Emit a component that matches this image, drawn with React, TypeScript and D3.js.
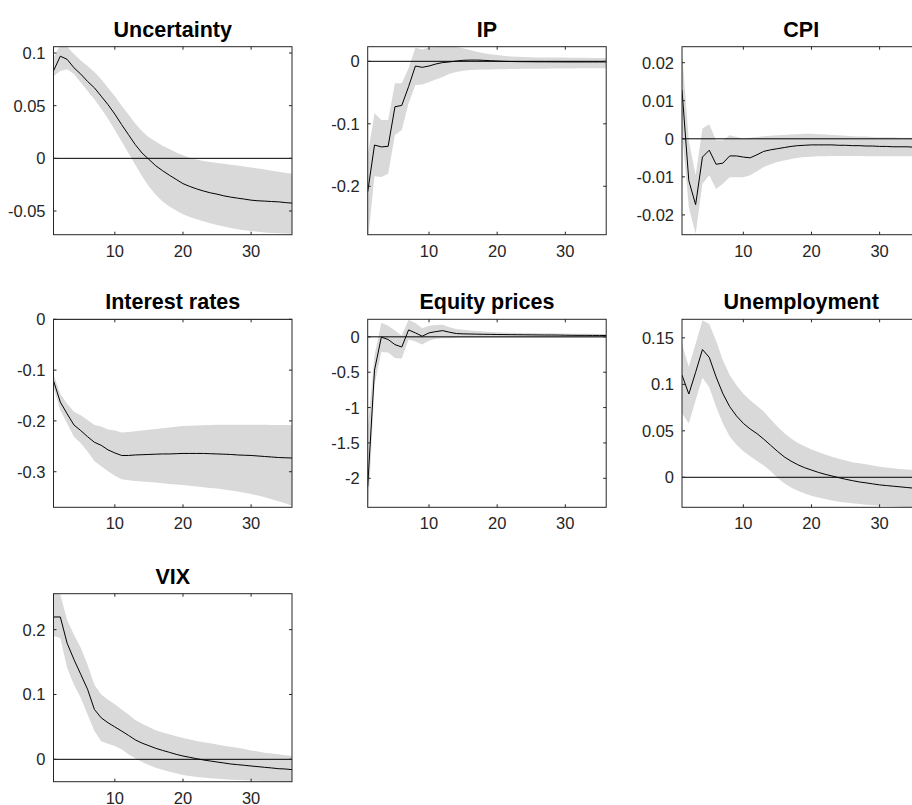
import React from "react";
import * as d3 from "d3";

// ---------- data ----------
const HORIZON = [1, 2, 3, 4, 5, 6, 7, 8, 9, 10, 11, 12, 13, 14, 15, 16, 17, 18, 19, 20, 21, 22, 23, 24, 25, 26, 27, 28, 29, 30, 31, 32, 33, 34, 35, 36];
const X_TICKS = [10, 20, 30];
const TITLES = ["Uncertainty", "IP", "CPI", "Interest rates", "Equity prices", "Unemployment", "VIX"];

const UNC_MID = [0.083, 0.097, 0.094, 0.086, 0.080, 0.073, 0.067, 0.059, 0.051, 0.042, 0.032, 0.0225, 0.013, 0.005, -0.001, -0.007, -0.0117, -0.016, -0.020, -0.024, -0.0267, -0.029, -0.031, -0.0327, -0.034, -0.0356, -0.0368, -0.0378, -0.0387, -0.0397, -0.0403, -0.0406, -0.041, -0.0413, -0.042, -0.0425];
const UNC_UP = [0.095, 0.108, 0.106, 0.099, 0.093, 0.0876, 0.082, 0.075, 0.067, 0.059, 0.050, 0.0416, 0.033, 0.0257, 0.020, 0.016, 0.012, 0.0089, 0.0055, 0.003, 0.0005, -0.0012, -0.0025, -0.0035, -0.0044, -0.0052, -0.006, -0.0068, -0.0077, -0.0088, -0.0097, -0.0107, -0.0117, -0.0127, -0.0137, -0.0146];
const UNC_LO = [0.078, 0.083, 0.0845, 0.080, 0.072, 0.064, 0.056, 0.047, 0.0375, 0.027, 0.016, 0.005, -0.006, -0.017, -0.0267, -0.0346, -0.041, -0.0457, -0.0495, -0.053, -0.0556, -0.0578, -0.0598, -0.0616, -0.0633, -0.0648, -0.0661, -0.0673, -0.0682, -0.069, -0.0698, -0.0705, -0.0708, -0.0711, -0.0714, -0.0717];
const UNC_TICKS = [-0.05, 0, 0.05, 0.1];
const UNC_TICK_LABELS = ["-0.05", "0", "0.05", "0.1"];
const UNC_RANGE = [-0.0725, 0.106];

const IP_MID = [-0.209, -0.134, -0.137, -0.136, -0.0727, -0.0706, -0.0406, -0.0075, -0.0096, -0.0075, -0.0043, -0.002, -0.001, 0.0005, 0.0016, 0.002, 0.002, 0.0016, 0.001, 0.0005, 0.0, -0.0003, -0.0005, -0.0006, -0.0007, -0.0008, -0.0008, -0.0009, -0.0009, -0.001, -0.001, -0.001, -0.001, -0.001, -0.001, -0.001];
const IP_UP = [-0.15, -0.083, -0.094, -0.094, -0.035, -0.035, -0.011, 0.022, 0.019, 0.022, 0.023, 0.023, 0.023, 0.023, 0.021, 0.018, 0.0155, 0.013, 0.0115, 0.010, 0.0088, 0.0077, 0.0072, 0.0068, 0.0065, 0.0063, 0.0062, 0.0061, 0.006, 0.006, 0.0058, 0.0057, 0.0056, 0.0055, 0.0054, 0.0053];
const IP_LO = [-0.29, -0.184, -0.185, -0.18, -0.118, -0.11, -0.067, -0.038, -0.037, -0.033, -0.029, -0.025, -0.02, -0.017, -0.015, -0.014, -0.0135, -0.013, -0.013, -0.0128, -0.0126, -0.0124, -0.0122, -0.012, -0.012, -0.0118, -0.0117, -0.0116, -0.0115, -0.0114, -0.0113, -0.0112, -0.0111, -0.011, -0.011, -0.011];
const IP_TICKS = [-0.2, -0.1, 0];
const IP_TICK_LABELS = ["-0.2", "-0.1", "0"];
const IP_RANGE = [-0.2775, 0.0234];

const CPI_MID = [0.0128, -0.011, -0.0173, -0.0048, -0.003, -0.0067, -0.0064, -0.0045, -0.0045, -0.0048, -0.005, -0.0042, -0.0033, -0.0029, -0.0026, -0.0023, -0.002, -0.0018, -0.0017, -0.0016, -0.0016, -0.0016, -0.0016, -0.0017, -0.0017, -0.0018, -0.0018, -0.0019, -0.0019, -0.002, -0.002, -0.0021, -0.0021, -0.0021, -0.0022, -0.0022];
const CPI_UP = [0.023, -0.0005, -0.0096, 0.0027, 0.0038, -0.0004, -0.0004, 0.0009, 0.0005, 0.0, 0.0003, 0.0005, 0.0007, 0.0008, 0.0009, 0.001, 0.0011, 0.0012, 0.0013, 0.0013, 0.0012, 0.0011, 0.001, 0.0009, 0.0008, 0.0007, 0.0006, 0.0006, 0.0005, 0.0004, 0.0004, 0.0004, 0.0003, 0.0003, 0.0003, 0.0003];
const CPI_LO = [0.002, -0.018, -0.025, -0.0118, -0.0096, -0.0132, -0.0118, -0.0101, -0.0101, -0.0101, -0.0096, -0.0085, -0.0074, -0.0067, -0.0061, -0.0057, -0.0053, -0.005, -0.0048, -0.0047, -0.0046, -0.0046, -0.0045, -0.0045, -0.0045, -0.0045, -0.0045, -0.0046, -0.0046, -0.0046, -0.0046, -0.0046, -0.0046, -0.0046, -0.0046, -0.0046];
const CPI_TICKS = [-0.02, -0.01, 0, 0.01, 0.02];
const CPI_TICK_LABELS = ["-0.02", "-0.01", "0", "0.01", "0.02"];
const CPI_RANGE = [-0.0252, 0.0242];

const IR_MID = [-0.121, -0.163, -0.186, -0.208, -0.219, -0.231, -0.242, -0.248, -0.257, -0.263, -0.268, -0.268, -0.267, -0.2665, -0.266, -0.2655, -0.265, -0.265, -0.2645, -0.264, -0.264, -0.264, -0.264, -0.2645, -0.265, -0.2655, -0.266, -0.267, -0.2675, -0.268, -0.269, -0.27, -0.271, -0.272, -0.2725, -0.273];
const IR_UP = [-0.108, -0.147, -0.166, -0.182, -0.189, -0.198, -0.208, -0.211, -0.217, -0.219, -0.223, -0.222, -0.2205, -0.219, -0.2175, -0.216, -0.2145, -0.213, -0.2115, -0.21, -0.2095, -0.209, -0.2085, -0.208, -0.2075, -0.2075, -0.2075, -0.2075, -0.2075, -0.2075, -0.2075, -0.2075, -0.2078, -0.208, -0.208, -0.208];
const IR_LO = [-0.134, -0.179, -0.205, -0.231, -0.244, -0.26, -0.279, -0.289, -0.299, -0.308, -0.315, -0.317, -0.318, -0.319, -0.32, -0.321, -0.3225, -0.324, -0.325, -0.326, -0.3275, -0.329, -0.3305, -0.332, -0.333, -0.335, -0.337, -0.339, -0.3415, -0.344, -0.347, -0.35, -0.354, -0.358, -0.362, -0.367];
const IR_TICKS = [-0.3, -0.2, -0.1, 0];
const IR_TICK_LABELS = ["-0.3", "-0.2", "-0.1", "0"];
const IR_RANGE = [-0.37, 0];

const EQ_MID = [-2.12, -0.47, -0.005, -0.037, -0.11, -0.144, 0.098, 0.056, 0.009, 0.056, 0.074, 0.088, 0.065, 0.047, 0.042, 0.04, 0.038, 0.036, 0.035, 0.033, 0.032, 0.031, 0.03, 0.029, 0.028, 0.027, 0.026, 0.026, 0.025, 0.023, 0.022, 0.021, 0.021, 0.02, 0.02, 0.019];
const EQ_UP = [-1.3, -0.26, 0.2, 0.158, 0.088, 0.019, 0.24, 0.195, 0.12, 0.158, 0.167, 0.172, 0.135, 0.112, 0.102, 0.09, 0.082, 0.076, 0.07, 0.065, 0.062, 0.059, 0.057, 0.055, 0.053, 0.051, 0.05, 0.049, 0.047, 0.046, 0.045, 0.044, 0.043, 0.042, 0.041, 0.04];
const EQ_LO = [-2.6, -0.68, -0.214, -0.223, -0.3, -0.307, -0.037, -0.065, -0.11, -0.056, -0.028, -0.019, -0.019, -0.016, -0.014, -0.013, -0.012, -0.012, -0.012, -0.012, -0.012, -0.012, -0.012, -0.012, -0.012, -0.012, -0.012, -0.012, -0.012, -0.012, -0.012, -0.012, -0.012, -0.012, -0.012, -0.012];
const EQ_TICKS = [-2, -1.5, -1, -0.5, 0];
const EQ_TICK_LABELS = ["-2", "-1.5", "-1", "-0.5", "0"];
const EQ_RANGE = [-2.41, 0.248];

const UN_MID = [0.110, 0.0896, 0.113, 0.1375, 0.129, 0.108, 0.090, 0.076, 0.066, 0.058, 0.052, 0.047, 0.041, 0.0345, 0.028, 0.022, 0.0174, 0.0135, 0.0103, 0.0078, 0.0053, 0.0032, 0.0014, -0.0004, -0.0021, -0.0036, -0.005, -0.006, -0.0071, -0.0082, -0.0089, -0.0096, -0.0103, -0.011, -0.0117, -0.0124];
const UN_UP = [0.1436, 0.119, 0.1436, 0.169, 0.165, 0.147, 0.126, 0.11, 0.099, 0.090, 0.083, 0.077, 0.0707, 0.0625, 0.0547, 0.0476, 0.0416, 0.037, 0.0334, 0.0299, 0.0272, 0.0245, 0.0222, 0.0199, 0.018, 0.0163, 0.015, 0.0139, 0.0126, 0.0114, 0.0105, 0.0096, 0.009, 0.0085, 0.008, 0.0075];
const UN_LO = [0.069, 0.058, 0.083, 0.107, 0.097, 0.076, 0.058, 0.044, 0.035, 0.028, 0.0227, 0.0174, 0.0128, 0.0068, -0.0004, -0.0064, -0.011, -0.0146, -0.0174, -0.0199, -0.0218, -0.0235, -0.025, -0.0263, -0.0272, -0.028, -0.0288, -0.0295, -0.0301, -0.0306, -0.031, -0.0313, -0.0317, -0.032, -0.0322, -0.0323];
const UN_TICKS = [0, 0.05, 0.1, 0.15];
const UN_TICK_LABELS = ["0", "0.05", "0.1", "0.15"];
const UN_RANGE = [-0.0323, 0.170];

const VIX_MID = [0.2195, 0.2195, 0.179, 0.154, 0.131, 0.108, 0.077, 0.064, 0.0564, 0.050, 0.0436, 0.037, 0.030, 0.025, 0.021, 0.017, 0.0138, 0.0108, 0.0077, 0.0051, 0.0031, 0.001, -0.001, -0.0026, -0.0041, -0.0056, -0.0072, -0.0082, -0.0092, -0.0103, -0.0113, -0.0123, -0.0133, -0.0144, -0.0149, -0.0159];
const VIX_UP = [0.256, 0.254, 0.215, 0.192, 0.172, 0.146, 0.115, 0.10, 0.092, 0.085, 0.077, 0.069, 0.0605, 0.055, 0.050, 0.045, 0.0415, 0.0385, 0.0354, 0.0328, 0.0305, 0.0282, 0.0264, 0.0246, 0.0228, 0.021, 0.0195, 0.018, 0.0159, 0.0138, 0.012, 0.0103, 0.009, 0.0077, 0.0064, 0.0051];
const VIX_LO = [0.19, 0.187, 0.141, 0.115, 0.095, 0.069, 0.0436, 0.028, 0.024, 0.0205, 0.0154, 0.0077, 0.0015, -0.0041, -0.0087, -0.0128, -0.0159, -0.019, -0.0215, -0.0241, -0.0257, -0.0272, -0.0282, -0.0292, -0.03, -0.0308, -0.0313, -0.0318, -0.0323, -0.0328, -0.033, -0.0333, -0.0336, -0.0338, -0.0341, -0.0344];
const VIX_TICKS = [0, 0.1, 0.2];
const VIX_TICK_LABELS = ["0", "0.1", "0.2"];
const VIX_RANGE = [-0.0345, 0.2554];

const PANELS = [
  { mid: UNC_MID, up: UNC_UP, lo: UNC_LO, ticks: UNC_TICKS, labels: UNC_TICK_LABELS, range: UNC_RANGE },
  { mid: IP_MID, up: IP_UP, lo: IP_LO, ticks: IP_TICKS, labels: IP_TICK_LABELS, range: IP_RANGE },
  { mid: CPI_MID, up: CPI_UP, lo: CPI_LO, ticks: CPI_TICKS, labels: CPI_TICK_LABELS, range: CPI_RANGE },
  { mid: IR_MID, up: IR_UP, lo: IR_LO, ticks: IR_TICKS, labels: IR_TICK_LABELS, range: IR_RANGE },
  { mid: EQ_MID, up: EQ_UP, lo: EQ_LO, ticks: EQ_TICKS, labels: EQ_TICK_LABELS, range: EQ_RANGE },
  { mid: UN_MID, up: UN_UP, lo: UN_LO, ticks: UN_TICKS, labels: UN_TICK_LABELS, range: UN_RANGE },
  { mid: VIX_MID, up: VIX_UP, lo: VIX_LO, ticks: VIX_TICKS, labels: VIX_TICK_LABELS, range: VIX_RANGE },
];

// ---------- layout ----------
const WIDTH = 912;
const HEIGHT = 805;
const COL_LEFT = [53.5, 367.7, 682];
const ROW_TOP = [46.7, 319.3, 593.7];
const PW = 238.5;
const PH = 188;
const AXIS = "#262626";
const FONT = "'Liberation Sans', Arial, Helvetica, sans-serif";
const TICK_LEN = 3;
const TICK_FONT = 16.5;

function Panel({ idx }: { idx: number }) {
  const p = PANELS[idx];
  const left = COL_LEFT[idx % 3];
  const top = ROW_TOP[Math.floor(idx / 3)];
  const x = d3.scaleLinear().domain([HORIZON[0], HORIZON[HORIZON.length - 1]]).range([0, PW]);
  const y = d3.scaleLinear().domain(p.range).range([PH, 0]);
  const area = d3
    .area<number>()
    .x((_, i) => x(HORIZON[i]))
    .y0((_, i) => y(p.lo[i]))
    .y1((_, i) => y(p.up[i]));
  const line = d3
    .line<number>()
    .x((_, i) => x(HORIZON[i]))
    .y((d) => y(d));
  const clipId = `clip-${idx}`;
  return (
    <g transform={`translate(${left},${top})`}>
      <defs>
        <clipPath id={clipId}>
          <rect x={0} y={0} width={PW} height={PH} />
        </clipPath>
      </defs>
      <g clipPath={`url(#${clipId})`}>
        <path d={area(p.mid) || ""} fill="#d9d9d9" stroke="none" />
        <line x1={x.range()[0]} x2={x.range()[1]} y1={y(0)} y2={y(0)} stroke="#000" strokeWidth={1} />
        <path d={line(p.mid) || ""} fill="none" stroke="#000" strokeWidth={1} />
      </g>
      <rect x={0} y={0} width={PW} height={PH} fill="none" stroke={AXIS} strokeWidth={1} />
      {X_TICKS.map((t) => (
        <g key={`xt${t}`}>
          <line x1={x(t)} x2={x(t)} y1={PH} y2={PH - TICK_LEN} stroke={AXIS} strokeWidth={1} />
          <line x1={x(t)} x2={x(t)} y1={0} y2={TICK_LEN} stroke={AXIS} strokeWidth={1} />
          <text x={x(t)} y={PH + 22} textAnchor="middle" fontFamily={FONT} fontSize={TICK_FONT} fill={AXIS}>
            {t}
          </text>
        </g>
      ))}
      {p.ticks.map((t, i) => (
        <g key={`yt${i}`}>
          <line x1={0} x2={TICK_LEN} y1={y(t)} y2={y(t)} stroke={AXIS} strokeWidth={1} />
          <line x1={PW} x2={PW - TICK_LEN} y1={y(t)} y2={y(t)} stroke={AXIS} strokeWidth={1} />
          <text x={-8} y={y(t)} dy="0.36em" textAnchor="end" fontFamily={FONT} fontSize={TICK_FONT} fill={AXIS}>
            {p.labels[i]}
          </text>
        </g>
      ))}
      <text x={PW / 2} y={-10} textAnchor="middle" fontFamily={FONT} fontSize={21.5} fontWeight="bold" fill="#000">
        {TITLES[idx]}
      </text>
    </g>
  );
}

export default function App() {
  return (
    <svg
      width={WIDTH}
      height={HEIGHT}
      style={{ position: "absolute", left: 0, top: 0, display: "block" }}
      xmlns="http://www.w3.org/2000/svg"
    >
      <rect x={0} y={0} width={WIDTH} height={HEIGHT} fill="#fff" />
      {PANELS.map((_, i) => (
        <Panel key={i} idx={i} />
      ))}
    </svg>
  );
}
